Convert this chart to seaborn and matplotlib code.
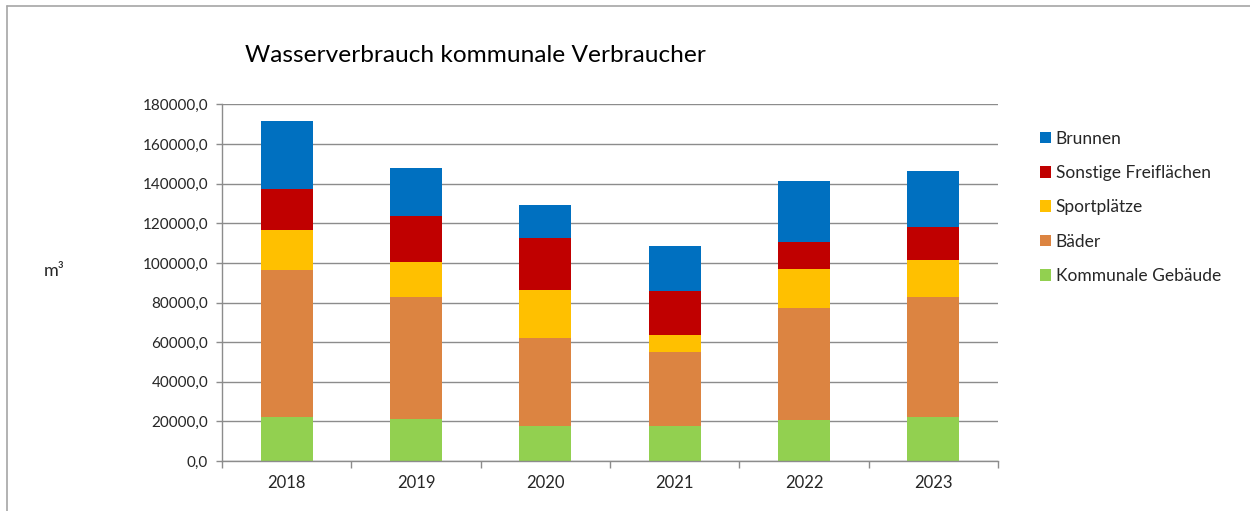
import matplotlib
matplotlib.use("Agg")
import matplotlib.pyplot as plt
import matplotlib.lines as mlines
import matplotlib.ticker as mticker
import numpy as np
import pandas as pd
import seaborn as sns

years = ["2018", "2019", "2020", "2021", "2022", "2023"]
kommunale_gebaeude = [22200, 21400, 17900, 17900, 20600, 22100]
baeder = [74300, 61500, 44300, 36900, 56700, 60800]
sportplaetze = [19900, 17400, 23900, 8800, 19600, 18500]
sonstige_freiflaechen = [20900, 23600, 26500, 22200, 13800, 16500]
brunnen = [34500, 24100, 16500, 22800, 30500, 28300]

series_names = ["Kommunale Gebäude", "Bäder", "Sportplätze", "Sonstige Freiflächen", "Brunnen"]
series_values = [kommunale_gebaeude, baeder, sportplaetze, sonstige_freiflaechen, brunnen]
colors = ["#92D050", "#DC8441", "#FFC000", "#C00000", "#0070C0"]
yticks = [0, 20000, 40000, 60000, 80000, 100000, 120000, 140000, 160000, 180000]

sns.set_style("white")
plt.rcParams["font.family"] = ["Lato", "DejaVu Sans"]

fig = plt.figure(figsize=(12.5, 5.11), dpi=100)
ax = fig.add_axes([222 / 1250, 50 / 511, 776 / 1250, 356.5 / 511])

df = pd.DataFrame({"Jahr": years})
cum = np.zeros(len(years))
cums = []
for vals in series_values:
    cum = cum + np.array(vals)
    cums.append(cum.copy())
for name, c, col in reversed(list(zip(series_names, cums, colors))):
    df[name] = c
    sns.barplot(data=df, x="Jahr", y=name, color=col, width=0.4, saturation=1,
                ax=ax, label=name, linewidth=0, order=years)

grid_c = "#8C8C8C"
ax.set_ylim(0, 180000)
ax.set_xlim(-0.5, 5.5)
ax.set_yticks(yticks)
ax.yaxis.set_major_formatter(mticker.FuncFormatter(lambda v, p: f"{v:.1f}".replace(".", ",")))
ax.yaxis.grid(True, color=grid_c, linewidth=1.0)
ax.set_axisbelow(True)
ax.set_xlabel("")
ax.set_ylabel("")
for s in ["top", "right"]:
    ax.spines[s].set_visible(False)
for s in ["left", "bottom"]:
    ax.spines[s].set_color(grid_c)
    ax.spines[s].set_linewidth(1.0)
ax.tick_params(axis="y", which="major", length=4, color=grid_c, width=1, labelsize=11, pad=6, left=True)
ax.tick_params(axis="x", which="major", length=0, labelsize=12, pad=10)
ax.set_xticks(np.arange(-0.5, 6, 1.0), minor=True)
ax.tick_params(axis="x", which="minor", length=5, color=grid_c, width=1, bottom=True)

fig.text(245 / 1250, 1 - 55 / 511, "Wasserverbrauch kommunale Verbraucher", fontsize=17.6,
         ha="left", va="center", color="#000000")
fig.text(54 / 1250, 1 - 271 / 511, "m³", fontsize=13, ha="center", va="center")

handles, labels = ax.get_legend_handles_labels()
ax.legend(handles, labels, loc="upper left", bbox_to_anchor=(1040 / 1250, 1 - 130.5 / 511),
          bbox_transform=fig.transFigure, frameon=False, fontsize=12.5,
          handlelength=0.65, handleheight=0.65, handletextpad=0.25, labelspacing=1.06,
          borderaxespad=0, borderpad=0)

fig.add_artist(mlines.Line2D([7 / 1250, 7 / 1250], [0, 1 - 6 / 511], color="#A6A6A6",
                             linewidth=1.2, transform=fig.transFigure))
fig.add_artist(mlines.Line2D([7 / 1250, 1], [1 - 6 / 511, 1 - 6 / 511], color="#A6A6A6",
                             linewidth=1.2, transform=fig.transFigure))

fig.savefig("out.png", dpi=100, facecolor="white")
